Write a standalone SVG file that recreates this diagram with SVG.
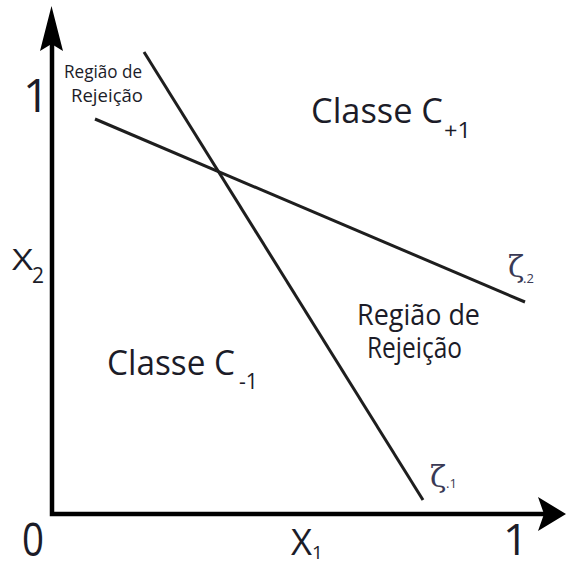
<svg xmlns="http://www.w3.org/2000/svg" width="566" height="568" viewBox="0 0 566 568">
<style>
text{font-family:"Open Sans","DejaVu Sans",sans-serif;fill:#1c1c28}
.big{font-size:34px}
.mid{font-size:29px}
.sub{font-size:21px}
.num{font-size:46px}
.ax{font-size:36px}
.sm{font-size:19px}
.zeta{font-family:"DejaVu Serif","Liberation Serif",serif;font-size:30px;fill:#3a3a55}
.zs{font-size:13px;fill:#3a3a55}
.line{stroke:#1e1e1e;stroke-width:3;fill:none}
.axis{stroke:#000;stroke-width:4.5;fill:none}
</style>
<rect width="566" height="568" fill="#fff"/>
<g id="axes">
<path class="axis" d="M52,42 V514 H545"/>
<path d="M51.5,6 L63,51 L51.5,44 L40,51 Z" fill="#000"/>
<path d="M566,514 L538,497 L544,514 L538,531 Z" fill="#000"/>
</g>
<g id="connectors">
<line class="line" x1="144" y1="52" x2="423" y2="500"/>
<line class="line" x1="95" y1="119" x2="525" y2="302"/>
</g>
<g id="labels">
<text class="num" x="23" y="112">1</text>
<text class="num" x="22" y="556" textLength="22" lengthAdjust="spacingAndGlyphs">0</text>
<text class="num" x="503" y="555" style="font-size:44px">1</text>
<text class="ax" x="291" y="555" textLength="21" lengthAdjust="spacingAndGlyphs">X</text><text class="sub" x="312" y="559" style="font-size:19px">1</text>
<text class="ax" x="12" y="270" style="font-size:30px" textLength="21" lengthAdjust="spacingAndGlyphs">X</text><text class="sub" x="32" y="283">2</text>
<text class="big" x="311" y="123" textLength="132" lengthAdjust="spacingAndGlyphs">Classe C</text><text class="sub" x="444" y="138" textLength="27" lengthAdjust="spacingAndGlyphs">+1</text>
<text class="big" x="107" y="375" textLength="128" lengthAdjust="spacingAndGlyphs">Classe C</text><text class="sub" x="239" y="389" textLength="19" lengthAdjust="spacingAndGlyphs">-1</text>
<text class="mid" x="357" y="325" textLength="123" lengthAdjust="spacingAndGlyphs">Região de</text>
<text class="mid" x="367" y="358" textLength="95" lengthAdjust="spacingAndGlyphs">Rejeição</text>
<text class="sm" x="64" y="78" textLength="78" lengthAdjust="spacingAndGlyphs">Região de</text>
<text class="sm" x="71" y="102" textLength="72" lengthAdjust="spacingAndGlyphs">Rejeição</text>
<text class="zeta" x="508" y="277">ζ</text><text class="zs" x="523" y="283">.2</text>
<text class="zeta" x="430" y="487">ζ</text><text class="zs" x="446" y="488">.1</text>
</g>
</svg>
